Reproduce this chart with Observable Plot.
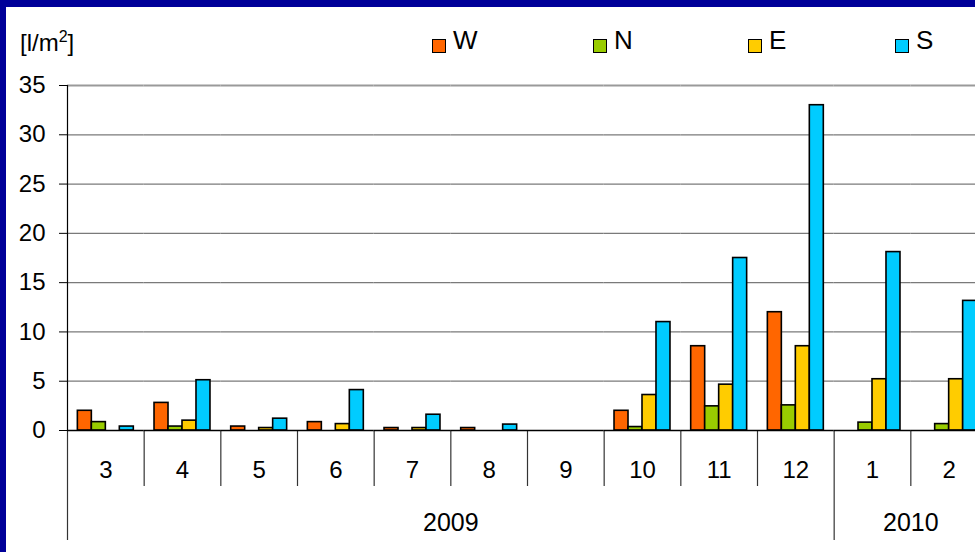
<!DOCTYPE html>
<html>
<head>
<meta charset="utf-8">
<script src="https://cdn.jsdelivr.net/npm/d3@7"></script>
<script src="https://cdn.jsdelivr.net/npm/@observablehq/plot@0.6"></script>
<style>
  html, body { margin: 0; padding: 0; overflow: hidden; background: #fff; }
  #frame { position: absolute; left: 0; top: 0; width: 975px; height: 552px; overflow: hidden; background: #000099; }
  #panel { position: absolute; left: 6px; top: 7px; right: -20px; bottom: -20px; background: #fff; }
  #chart { position: absolute; left: 0; top: 0; width: 987px; height: 552px; }
  #chart svg { max-width: none !important; width: 987px; height: 552px; }
  .lbl { position: absolute; font-family: "Liberation Sans", Arial, sans-serif; color: #000; white-space: nowrap; }
  #unit { left: 20px; top: 31px; font-size: 24px; line-height: 24px; }
  #unit sup { font-size: 16px; vertical-align: 9px; line-height: 0; }
  .item { position: absolute; top: 25px; height: 30px; font-family: "Liberation Sans", Arial, sans-serif; font-size: 26px; line-height: 30px; color: #000; }
  .sw { position: absolute; left: 0; top: 14px; width: 12px; height: 12px; border: 1.5px solid #000; }
  .tx { position: absolute; left: 21px; top: 0; }
</style>
</head>
<body>
<div id="frame">
  <div id="panel"></div>
  <div id="chart"></div>
  <div id="unit" class="lbl">[l/m<sup>2</sup>]</div>
  <div id="legend"></div>
</div>
<script>
// ---- data ----
const years  = ["2009","2009","2009","2009","2009","2009","2009","2009","2009","2009","2010","2010"];
const months = ["3","4","5","6","7","8","9","10","11","12","1","2"];
const series = ["W", "N", "E", "S"];
const colors = ["#FF6600", "#99CC00", "#FFCC00", "#00CCFF"];
const valuesW = [2.0, 2.8, 0.4, 0.85, 0.25, 0.25, 0, 2.0, 8.55, 12.0, 0, 0];
const valuesN = [0.85, 0.4, 0, 0, 0, 0, 0, 0.35, 2.45, 2.55, 0.8, 0.65];
const valuesE = [0, 1.0, 0.25, 0.65, 0.25, 0, 0, 3.6, 4.65, 8.55, 5.2, 5.2];
const valuesS = [0.4, 5.1, 1.2, 4.1, 1.6, 0.6, 0, 11.0, 17.5, 33.0, 18.1, 13.15];
const yTicks = [0, 5, 10, 15, 20, 25, 30, 35];
const legendLeft = [432, 593, 748, 895];

// ---- build table ----
const keys = months.map((m, i) => years[i] + "-" + m);
const seriesValues = {W: valuesW, N: valuesN, E: valuesE, S: valuesS};
const table = [];
keys.forEach((k, i) => series.forEach(s => table.push({key: k, series: s, value: seriesValues[s][i]})));

// year groups
const yearGroups = [];
years.forEach((y, i) => {
  let g = yearGroups.find(d => d.year === y);
  if (!g) { g = {year: y, keys: []}; yearGroups.push(g); }
  g.keys.push(keys[i]);
});
const firstOfYear = yearGroups.map(g => g.keys[0]);
const yearLabels = yearGroups.map(g => ({year: g.year, key: g.keys[Math.floor(g.keys.length / 2)], even: g.keys.length % 2 === 0}));

// ---- layout ----
const W = 987, H = 552, mL = 67, mR = 0, mT = 85, mB = 122;
const step = (W - mL - mR) / keys.length;
const font = "Liberation Sans, Arial, sans-serif";

const plot = Plot.plot({
  width: W, height: H,
  marginLeft: mL, marginRight: mR, marginTop: mT, marginBottom: mB,
  style: {fontFamily: font, fontSize: "24px", color: "#000", background: "transparent", overflow: "visible", maxWidth: "none"},
  fx: {domain: keys, paddingInner: 0, paddingOuter: 0, round: false, axis: null, label: null},
  x: {domain: series, paddingInner: 0, paddingOuter: 0.74, round: false, axis: null},
  y: {domain: [0, 35], axis: null},
  color: {domain: series, range: colors},
  marks: [
    Plot.ruleY(yTicks.filter(t => t > 0 && t < 35), {stroke: "#7a7a7a", strokeWidth: 1.3}),
    Plot.ruleY([35], {stroke: "#9a9a9a", strokeWidth: 2}),
    // category dividers below the axis
    Plot.ruleX(keys.filter(k => !firstOfYear.includes(k)), {fx: d => d, x: null, y1: 0, y2: 0, insetBottom: -56, dx: -step / 2, stroke: "#333", strokeWidth: 1.2}),
    // year dividers
    Plot.ruleX(firstOfYear, {fx: d => d, x: null, y1: 0, y2: 0, insetBottom: -110, dx: -step / 2, stroke: "#333", strokeWidth: 1.2}),
    // y axis line
    Plot.ruleX([keys[0]], {fx: d => d, x: null, y1: 0, y2: 35, dx: -step / 2, stroke: "#000", strokeWidth: 1.2}),
    Plot.barY(table.filter(d => d.value > 0), {fx: "key", x: "series", y: "value", fill: "series", stroke: "#000", strokeWidth: 1.6}),
    Plot.ruleY([0], {stroke: "#000", strokeWidth: 1.5}),
    Plot.axisY({ticks: yTicks, tickSize: 8, tickPadding: 14, fontSize: 24, label: null, stroke: "#000"}),
    Plot.axisFx({anchor: "bottom", tickSize: 0, tickPadding: 30, fontSize: 24, label: null, tickFormat: k => k.split("-")[1]}),
    Plot.text(yearLabels.filter(d => d.even), {fx: "key", text: "year", frameAnchor: "bottom", lineAnchor: "middle", dy: 92, dx: -step / 2, fontSize: 25, fill: "#000"}),
    Plot.text(yearLabels.filter(d => !d.even), {fx: "key", text: "year", frameAnchor: "bottom", lineAnchor: "middle", dy: 92, fontSize: 25, fill: "#000"})
  ]
});
document.getElementById("chart").appendChild(plot);

// ---- legend ----
const legend = document.getElementById("legend");
series.forEach((s, i) => {
  const item = document.createElement("div");
  item.className = "item";
  item.style.left = legendLeft[i] + "px";
  const sw = document.createElement("span");
  sw.className = "sw";
  sw.style.background = colors[i];
  const tx = document.createElement("span");
  tx.className = "tx";
  tx.textContent = s;
  item.appendChild(sw);
  item.appendChild(tx);
  legend.appendChild(item);
});
</script>
</body>
</html>
